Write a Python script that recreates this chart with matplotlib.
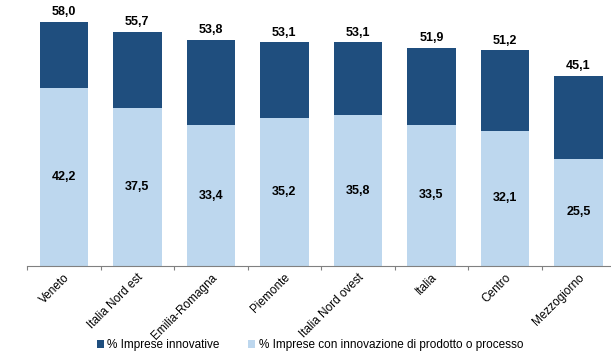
import matplotlib.pyplot as plt
import numpy as np

plt.rcParams['font.family'] = ['Liberation Sans', 'DejaVu Sans']

# dati
regioni = ['Veneto', 'Italia Nord est', 'Emilia-Romagna', 'Piemonte',
           'Italia Nord ovest', 'Italia', 'Centro', 'Mezzogiorno']
innovative = [58.0, 55.7, 53.8, 53.1, 53.1, 51.9, 51.2, 45.1]
prodotto_processo = [42.2, 37.5, 33.4, 35.2, 35.8, 33.5, 32.1, 25.5]

scuro = '#1F4E7E'
chiaro = '#BDD7EE'

fig = plt.figure(figsize=(6.11, 3.62), dpi=100)
ax = fig.add_axes([27 / 611, 96 / 362, 600 / 611, 261 / 362])

x = np.arange(len(regioni))
larghezza = 0.66
ax.bar(x, innovative, larghezza, color=scuro, label='% Imprese innovative')
ax.bar(x, prodotto_processo, larghezza, color=chiaro,
       label='% Imprese con innovazione di prodotto o processo')

for i in range(len(regioni)):
    ax.text(x[i], innovative[i] + 0.9, f'{innovative[i]:.1f}'.replace('.', ','),
            ha='center', va='bottom', fontsize=9, fontweight='bold')
    ax.text(x[i], prodotto_processo[i] / 2, f'{prodotto_processo[i]:.1f}'.replace('.', ','),
            ha='center', va='center', fontsize=9, fontweight='bold')

ax.set_xlim(-0.5, len(regioni) - 0.5 + 0.16)
ax.set_ylim(0, 62)
ax.set_yticks([])
ax.set_xticks(np.arange(len(regioni) + 1) - 0.5, minor=False)
ax.set_xticklabels([])
ax.tick_params(axis='x', length=3, color='#808080', direction='out')
ax.set_xticks(x, minor=True)
ax.set_xticklabels(regioni, minor=True, rotation=45, ha='right',
                   rotation_mode='anchor', fontsize=8.5)
ax.tick_params(axis='x', which='minor', length=0, pad=4)
for lato in ['top', 'right', 'left']:
    ax.spines[lato].set_visible(False)
ax.spines['bottom'].set_color('#808080')

fig.legend(loc='lower center', bbox_to_anchor=(0.507, 0.0), ncol=2, frameon=False,
           fontsize=8.5, handlelength=0.6, handleheight=0.6, columnspacing=2.4,
           handletextpad=0.3)

fig.savefig('out.png', dpi=100)
